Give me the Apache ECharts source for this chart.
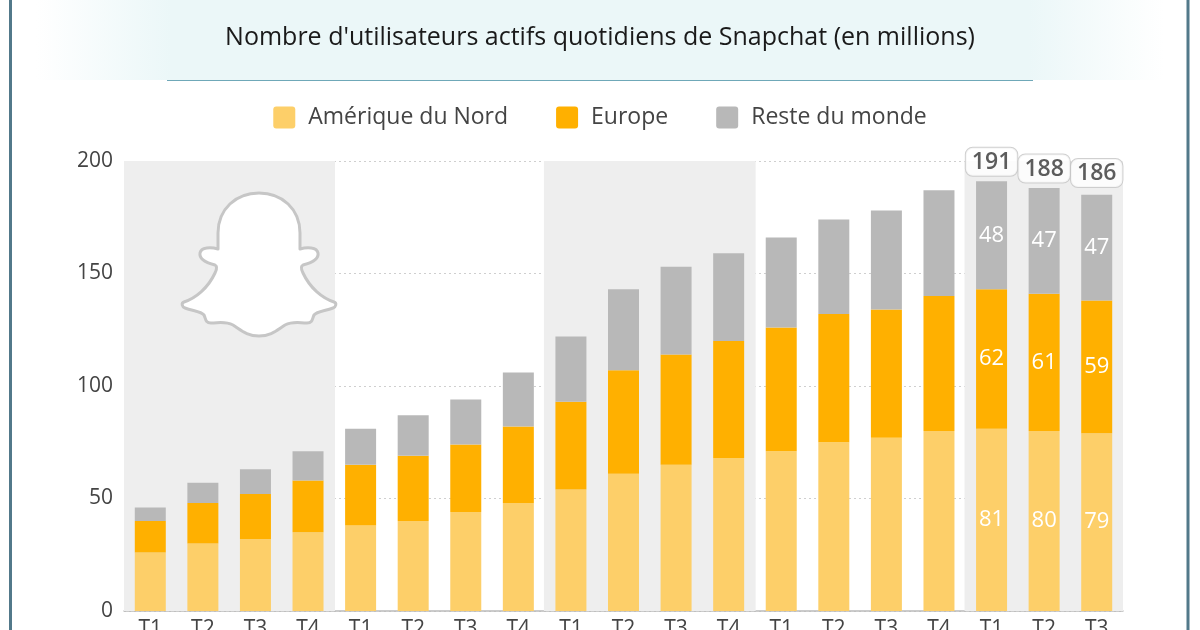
<!DOCTYPE html>
<html>
<head>
<meta charset="utf-8">
<script src="https://cdn.jsdelivr.net/npm/echarts@6/dist/echarts.min.js"></script>
<style>
html,body{margin:0;padding:0;background:#fff;}
#chart{width:1200px;height:630px;}
</style>
</head>
<body>
<div id="chart"></div>
<script>
// ---- data ----
const categories = ['T1','T2','T3','T4','T1','T2','T3','T4','T1','T2','T3','T4','T1','T2','T3','T4','T1','T2','T3'];
const ameriqueNord = [26,30,32,35,38,40,44,48,54,61,65,68,71,75,77,80,81,80,79];
const europe       = [14,18,20,23,27,29,30,34,39,46,49,52,55,57,57,60,62,61,59];
const resteMonde   = [6,9,11,13,16,18,20,24,29,36,39,39,40,42,44,47,48,47,47];
const totals       = [46,57,63,71,81,87,94,106,122,143,153,159,166,174,178,187,191,188,186];
const labelledIdx  = [16,17,18];           // bars whose values are written
const shadedIdx    = [0,1,2,3,8,9,10,11,16,17,18]; // alternating year bands
const yTicks = {min:0, max:200, interval:50};

const FONT = '"Open Sans", "Noto Sans", sans-serif';
const C_NA = '#FDCF69', C_EU = '#FFB000', C_RM = '#B8B8B8';

function segData(arr){
  return arr.map((v,i)=> labelledIdx.includes(i)
    ? {value:v, label:{show:true}} : v);
}

const chart = echarts.init(document.getElementById('chart'), null, {renderer:'canvas'});

// ghost icon drawn in a 160x150 box
const ghostPath = 'M80,4 C57,4 39,20 39,44 L39,60 C32,58 22,58 21,64 C20,70 28,74 36,76 C38,77 38,80 36,84 C29,99 17,109 5,113 C2,114 3,118 6,119 C14,122 22,122 25,126 C27,130 26,134 32,134 C40,134 46,132 54,136 C62,141 68,147 80,147 C92,147 98,141 106,136 C114,132 120,134 128,134 C134,134 133,130 135,126 C138,122 146,122 154,119 C157,118 158,114 155,113 C143,109 131,99 124,84 C122,80 122,77 124,76 C132,74 140,70 139,64 C138,58 128,58 121,60 L121,44 C121,20 103,4 80,4 Z';
const ghostSvg = 'data:image/svg+xml;charset=utf-8,' + encodeURIComponent(
  '<svg xmlns="http://www.w3.org/2000/svg" width="160" height="150" viewBox="0 0 160 150">' +
  '<path d="' + ghostPath + '" fill="#ffffff" stroke="#c6c6c6" stroke-width="3" stroke-linejoin="round"/></svg>');

const segLabel = {
  show:false, position:'inside', color:'#fff', fontSize:22, fontFamily:FONT
};

const option = {
  backgroundColor:'#ffffff',
  animation:false,
  textStyle:{fontFamily:FONT},
  graphic:[
    {type:'rect', z:0, silent:true, shape:{x:36,y:0,width:1128,height:80},
     style:{fill:new echarts.graphic.LinearGradient(0,0,1,0,[
       {offset:0,color:'rgba(235,247,248,0)'},
       {offset:0.12,color:'#EBF7F8'},
       {offset:0.88,color:'#EBF7F8'},
       {offset:1,color:'rgba(235,247,248,0)'}])}},
    {type:'line', z:1, silent:true, shape:{x1:167,y1:80.5,x2:1033,y2:80.5},
     style:{stroke:'#6FA8B8', lineWidth:1.2}},
    {type:'rect', z:5, silent:true, shape:{x:9,y:0,width:3,height:630}, style:{fill:'#52798A'}},
    {type:'rect', z:5, silent:true, shape:{x:1186.5,y:0,width:3,height:630}, style:{fill:'#52798A'}},
    {type:'text', z:5, silent:true, left:'center', top:25,
     style:{text:"Nombre d'utilisateurs actifs quotidiens de Snapchat (en millions)",
            fontSize:25, fontFamily:FONT, fill:'#1A1A1A'}},
    {type:'image', z:50, silent:true, left:179, top:189,
     style:{image:ghostSvg, width:160, height:150}}
  ],
  legend:{
    top:101, left:'center', itemWidth:22, itemHeight:22, itemGap:48,
    icon:'path://M3,0 H19 A3,3 0 0 1 22,3 V19 A3,3 0 0 1 19,22 H3 A3,3 0 0 1 0,19 V3 A3,3 0 0 1 3,0 Z',
    data:['Amérique du Nord','Europe','Reste du monde'],
    textStyle:{fontSize:23, color:'#444', fontFamily:FONT, padding:[0,0,0,8]},
    selectedMode:false
  },
  grid:{left:124, right:77, top:161, bottom:19, containLabel:false, outerBoundsMode:'none'},
  xAxis:[
    {type:'category', data:categories,
     axisLine:{lineStyle:{color:'#BBBBBB', width:1.5}},
     axisTick:{show:false},
     axisLabel:{fontSize:21, color:'#444', margin:8, fontFamily:FONT}},
    {type:'category', data:categories, show:false}
  ],
  yAxis:{type:'value', min:yTicks.min, max:yTicks.max, interval:yTicks.interval,
    axisLine:{show:false}, axisTick:{show:false},
    axisLabel:{fontSize:21, color:'#444', margin:11, fontFamily:FONT},
    splitLine:{lineStyle:{color:'#CFCFCF', type:[2,3], width:1}}
  },
  series:[
    {name:'bands', type:'bar', xAxisIndex:1, barWidth:54, silent:true, z:0,
     itemStyle:{color:'#EEEEEE'},
     data:categories.map((c,i)=> shadedIdx.includes(i) ? yTicks.max : '-')},
    {name:'Amérique du Nord', type:'bar', stack:'dau', barWidth:31, z:3,
     itemStyle:{color:C_NA}, label:segLabel, data:segData(ameriqueNord)},
    {name:'Europe', type:'bar', stack:'dau', barWidth:31, z:3,
     itemStyle:{color:C_EU}, label:segLabel, data:segData(europe)},
    {name:'Reste du monde', type:'bar', stack:'dau', barWidth:31, z:3,
     itemStyle:{color:C_RM}, label:segLabel, data:segData(resteMonde)},
    {name:'totals', type:'scatter', z:10, silent:true, symbolSize:1,
     itemStyle:{color:'rgba(0,0,0,0)'},
     label:{show:true, position:'top', distance:5, formatter:p=>String(p.value[1]),
       fontSize:23, fontWeight:600, color:'#333', fontFamily:FONT,
       backgroundColor:'#FFFFFF', borderColor:'#C4C4C4', borderWidth:1, borderRadius:7,
       padding:[3,6,2,6]},
     data:labelledIdx.map(i=>[i, totals[i]])}
  ]
};
chart.setOption(option);
</script>
</body>
</html>
